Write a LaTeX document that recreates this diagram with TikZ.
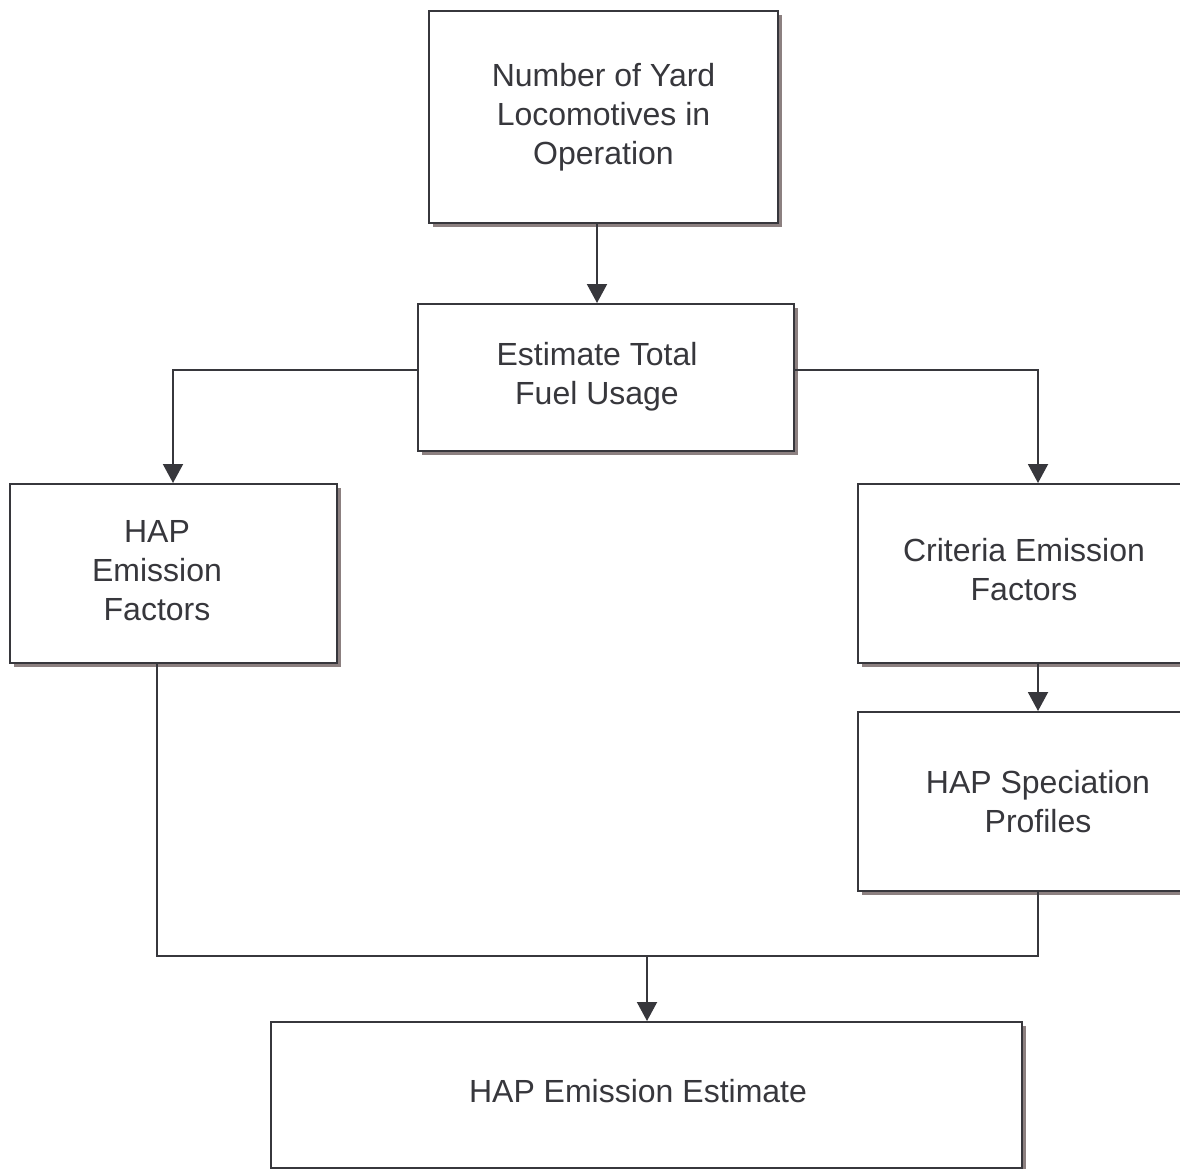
\documentclass[tikz,border=0pt]{standalone}
\usepackage{fontspec}
\setmainfont{Liberation Sans}
\usetikzlibrary{arrows.meta,shadows}
\definecolor{linec}{RGB}{55,55,60}
\definecolor{shadowc}{RGB}{140,128,128}
\tikzset{
  box/.style={draw=linec, line width=2pt, fill=white, rectangle, inner sep=0pt,
    align=center, text=linec, font=\fontsize{32}{39}\selectfont,
    drop shadow={shadow xshift=4pt, shadow yshift=-4pt, fill=shadowc, opacity=1}},
  conn/.style={draw=linec, line width=2pt},
  arr/.style={conn, -{Triangle[width=20pt,length=19pt]}}
}
\begin{document}
\begin{tikzpicture}[x=1pt,y=-1pt]
\useasboundingbox (0,0) rectangle (1180,1169);
\clip (0,0) rectangle (1180,1169);
\fill[white] (0,0) rectangle (1180,1169);
\node[box, minimum width=349pt, minimum height=212pt] (box1) at (603.5,117) {Number of Yard\\Locomotives in\\Operation};
\node[box, minimum width=376pt, minimum height=147pt] (box2) at (606,377.5) {\tabular{@{}c@{}}Estimate Total\\Fuel Usage\endtabular\hspace{18pt}};
\node[box, minimum width=327pt, minimum height=179pt] (hapef) at (173.5,573.5) {\tabular{@{}c@{}}HAP\\Emission\\Factors\endtabular\hspace{33pt}};
\node[box, minimum width=360pt, minimum height=179pt] (crit) at (1038,573.5) {\tabular{@{}c@{}}Criteria Emission\\Factors\endtabular\hspace{28pt}};
\node[box, minimum width=360pt, minimum height=179pt] (spec) at (1038,801.5) {HAP Speciation\\Profiles};
\node[box, minimum width=751pt, minimum height=146pt] (final) at (646.5,1095) {\tabular{@{}c@{}}HAP Emission Estimate\endtabular\hspace{17pt}};
\coordinate (j) at (647,956);
\draw[arr] ([xshift=-6.5pt]box1.south) -- ([xshift=-9pt]box2.north);
\draw[arr] ([yshift=7.5pt]box2.west) -| ([xshift=-0.5pt]hapef.north);
\draw[arr] ([yshift=7.5pt]box2.east) -| (crit.north);
\draw[arr] (crit.south) -- (spec.north);
\draw[conn] ([xshift=-16.5pt]hapef.south) |- (j) -| (spec.south);
\draw[arr] (j) -- ([xshift=0.5pt]final.north);
\end{tikzpicture}
\end{document}
